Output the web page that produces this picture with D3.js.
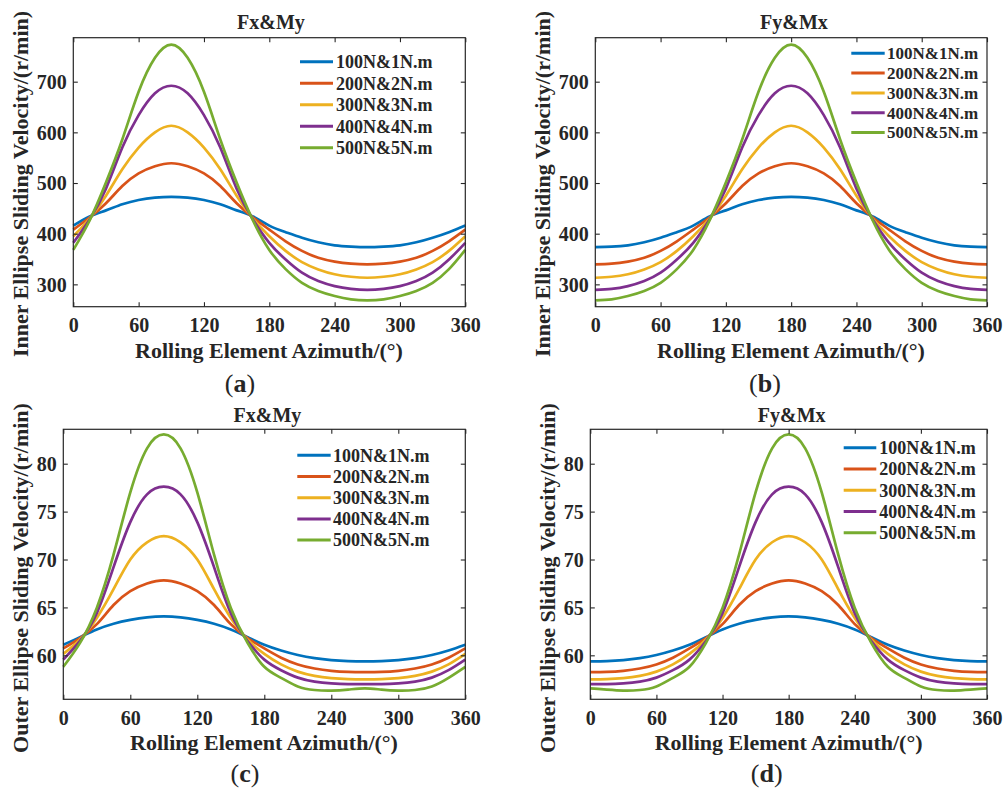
<!DOCTYPE html>
<html>
<head>
<meta charset="utf-8">
<script src="https://cdnjs.cloudflare.com/ajax/libs/d3/7.8.5/d3.min.js"></script>
<style>
  body { margin: 0; background: #fff; }
  svg text { font-family: "Liberation Serif", "Times New Roman", serif; fill: #262626; }
</style>
</head>
<body>
<div id="chart"></div>
<script>
// azimuth grid (deg)
var azimuth = [0, 15, 30, 45, 60, 75, 90, 105, 120, 135, 150, 165, 180,
               195, 210, 225, 240, 255, 270, 285, 300, 315, 330, 345, 360];

var seriesNames = ["100N&1N.m", "200N&2N.m", "300N&3N.m", "400N&4N.m", "500N&5N.m"];
var seriesColors = ["#0072BD", "#D95319", "#EDB120", "#7E2F8E", "#77AC30"];

// (a) inner ellipse, Fx&My
var innerFxMy = [
  [416, 434, 446, 458, 466.5, 471, 472.5, 471, 466.5, 458, 446, 434, 416, 403, 392, 383, 377, 374.5, 373.5, 374.5, 377, 383, 392, 403, 416],
  [408, 432, 460, 494, 519, 533, 539, 533, 519, 494, 460, 432, 408, 385, 366, 352.5, 345, 341, 339.5, 341, 345, 352.5, 366, 385, 408],
  [395, 430, 475, 527, 570, 600, 613, 600, 570, 527, 475, 430, 395, 366, 344, 329.5, 320, 315, 313, 315, 320, 329.5, 344, 366, 395],
  [382, 428, 489, 570, 634, 677, 692, 677, 634, 570, 489, 428, 382, 349, 323, 306.5, 296.5, 291, 289, 291, 296.5, 306.5, 323, 349, 382],
  [368, 426, 501, 586, 680, 747, 773, 747, 680, 586, 501, 426, 368, 330, 303, 287, 277, 270.5, 268.5, 270.5, 277, 287, 303, 330, 368]
];

// (b) inner ellipse, Fy&Mx
var innerFyMx = [
  [373.5, 374.5, 377, 383, 392, 403, 416, 434, 446, 458, 466.5, 471, 472.5, 471, 466.5, 458, 446, 434, 416, 403, 392, 383, 377, 374.5, 373.5],
  [339.5, 341, 345, 352.5, 366, 385, 408, 432, 460, 494, 519, 533, 539, 533, 519, 494, 460, 432, 408, 385, 366, 352.5, 345, 341, 339.5],
  [313, 315, 320, 329.5, 344, 366, 395, 430, 475, 527, 570, 600, 613, 600, 570, 527, 475, 430, 395, 366, 344, 329.5, 320, 315, 313],
  [289, 291, 296.5, 306.5, 323, 349, 382, 428, 489, 570, 634, 677, 692, 677, 634, 570, 489, 428, 382, 349, 323, 306.5, 296.5, 291, 289],
  [268.5, 270.5, 277, 287, 303, 330, 368, 426, 501, 586, 680, 747, 773, 747, 680, 586, 501, 426, 368, 330, 303, 287, 277, 270.5, 268.5]
];

// (c) outer ellipse, Fx&My
var outerFxMy = [
  [61.1, 61.9, 62.7, 63.3, 63.7, 63.97, 64.07, 63.97, 63.7, 63.3, 62.7, 61.9, 61.1, 60.5, 60.03, 59.7, 59.5, 59.4, 59.37, 59.4, 59.5, 59.7, 60.03, 60.5, 61.1],
  [60.72, 61.8, 63.25, 65.25, 66.7, 67.5, 67.83, 67.5, 66.7, 65.25, 63.25, 61.8, 60.72, 59.75, 59.05, 58.62, 58.38, 58.27, 58.25, 58.27, 58.38, 58.62, 59.05, 59.75, 60.72],
  [60.15, 61.65, 63.9, 66.9, 70.0, 71.8, 72.45, 71.8, 70.0, 66.9, 63.9, 61.65, 60.15, 59.05, 58.3, 57.85, 57.62, 57.52, 57.5, 57.52, 57.62, 57.85, 58.3, 59.05, 60.15],
  [59.55, 61.5, 64.4, 69.2, 73.9, 76.8, 77.6, 76.8, 73.9, 69.2, 64.4, 61.5, 59.55, 58.45, 57.67, 57.25, 57.07, 57.0, 57.0, 57.0, 57.07, 57.25, 57.67, 58.45, 59.55],
  [58.8, 61.3, 64.95, 70.5, 77.0, 81.6, 83.05, 81.6, 77.0, 70.5, 64.95, 61.3, 58.8, 57.65, 56.75, 56.38, 56.32, 56.42, 56.55, 56.42, 56.32, 56.38, 56.75, 57.65, 58.8]
];

// (d) outer ellipse, Fy&Mx
var outerFyMx = [
  [59.37, 59.4, 59.5, 59.7, 60.03, 60.5, 61.1, 61.9, 62.7, 63.3, 63.7, 63.97, 64.07, 63.97, 63.7, 63.3, 62.7, 61.9, 61.1, 60.5, 60.03, 59.7, 59.5, 59.4, 59.37],
  [58.25, 58.27, 58.38, 58.62, 59.05, 59.75, 60.72, 61.8, 63.25, 65.25, 66.7, 67.5, 67.83, 67.5, 66.7, 65.25, 63.25, 61.8, 60.72, 59.75, 59.05, 58.62, 58.38, 58.27, 58.25],
  [57.5, 57.52, 57.62, 57.85, 58.3, 59.05, 60.15, 61.65, 63.9, 66.9, 70.0, 71.8, 72.45, 71.8, 70.0, 66.9, 63.9, 61.65, 60.15, 59.05, 58.3, 57.85, 57.62, 57.52, 57.5],
  [57.0, 57.0, 57.07, 57.25, 57.67, 58.45, 59.55, 61.5, 64.4, 69.2, 73.9, 76.8, 77.6, 76.8, 73.9, 69.2, 64.4, 61.5, 59.55, 58.45, 57.67, 57.25, 57.07, 57.0, 57.0],
  [56.55, 56.42, 56.32, 56.38, 56.75, 57.65, 58.8, 61.3, 64.95, 70.5, 77.0, 81.6, 83.05, 81.6, 77.0, 70.5, 64.95, 61.3, 58.8, 57.65, 56.75, 56.38, 56.32, 56.42, 56.55]
];

var xTicks = [0, 60, 120, 180, 240, 300, 360];
var innerTicks = [300, 400, 500, 600, 700];
var outerTicks = [60, 65, 70, 75, 80];
var innerDomain = [255.9, 786.8];
var outerDomain = [55.41, 83.59];

var innerLabel = "Inner Ellipse Sliding Velocity/(r/min)";
var outerLabel = "Outer Ellipse Sliding Velocity/(r/min)";
var xLabel = "Rolling Element Azimuth/(\u00b0)";

// layout of the four panels
var panels = [
  { data: innerFxMy, title: "Fx&My", tag: "a", ylabel: innerLabel, yTicks: innerTicks, yDomain: innerDomain,
    box: { l: 73.3, r: 465.3, t: 37.7, b: 306.7 }, titleX: 271, titleY: 29, xLabX: 269, xLabY: 358,
    yLabX: 28, yLabY: 184, tagX: 240, tagY: 392,
    leg: { x0: 300, x1: 333, tx: 336, y0: 61.7, dy: 21.5, fs: 18 } },
  { data: innerFyMx, title: "Fy&Mx", tag: "b", ylabel: innerLabel, yTicks: innerTicks, yDomain: innerDomain,
    box: { l: 595.3, r: 987, t: 37.7, b: 306.7 }, titleX: 794, titleY: 29, xLabX: 791, xLabY: 358,
    yLabX: 550, yLabY: 184, tagX: 765, tagY: 392,
    leg: { x0: 851.3, x1: 884.7, tx: 887, y0: 53.3, dy: 19.8, fs: 17 } },
  { data: outerFxMy, title: "Fx&My", tag: "c", ylabel: outerLabel, yTicks: outerTicks, yDomain: outerDomain,
    box: { l: 63.3, r: 465.3, t: 429.3, b: 699.3 }, titleX: 267.5, titleY: 421.7, xLabX: 264, xLabY: 750,
    yLabX: 28, yLabY: 578, tagX: 245, tagY: 782,
    leg: { x0: 297.3, x1: 330.7, tx: 333, y0: 455.3, dy: 21.2, fs: 18 } },
  { data: outerFyMx, title: "Fy&Mx", tag: "d", ylabel: outerLabel, yTicks: outerTicks, yDomain: outerDomain,
    box: { l: 590.3, r: 987, t: 429.3, b: 699.3 }, titleX: 791.7, titleY: 421.7, xLabX: 788.6, xLabY: 750,
    yLabX: 555, yLabY: 578, tagX: 766.7, tagY: 782,
    leg: { x0: 843.7, x1: 876.3, tx: 879.3, y0: 447.7, dy: 21.25, fs: 18 } }
];

var svg = d3.select("#chart").append("svg")
  .attr("width", 1003)
  .attr("height", 791);

var ink = "#262626";

panels.forEach(function(p) {
  var x = d3.scaleLinear().domain([0, 360]).range([p.box.l, p.box.r]);
  var y = d3.scaleLinear().domain(p.yDomain).range([p.box.b, p.box.t]);
  var g = svg.append("g");

  // curves
  var line = d3.line()
    .x(function(d) { return x(d[0]); })
    .y(function(d) { return y(d[1]); })
    .curve(d3.curveNatural);

  p.data.forEach(function(vals, i) {
    g.append("path")
      .datum(azimuth.map(function(a, k) { return [a, vals[k]]; }))
      .attr("d", line)
      .attr("fill", "none")
      .attr("stroke", seriesColors[i])
      .attr("stroke-width", 2.7)
      .attr("stroke-linejoin", "round");
  });

  // axes (inward ticks on all four sides)
  var bottom = g.append("g").attr("transform", "translate(0," + p.box.b + ")")
    .call(d3.axisBottom(x).tickValues(xTicks).tickSize(-4.5).tickPadding(10));
  var top = g.append("g").attr("transform", "translate(0," + p.box.t + ")")
    .call(d3.axisTop(x).tickValues(xTicks).tickSize(-4.5).tickFormat(""));
  var left = g.append("g").attr("transform", "translate(" + p.box.l + ",0)")
    .call(d3.axisLeft(y).tickValues(p.yTicks).tickSize(-4.5).tickPadding(6.5));
  var right = g.append("g").attr("transform", "translate(" + p.box.r + ",0)")
    .call(d3.axisRight(y).tickValues(p.yTicks).tickSize(-4.5).tickFormat(""));

  [bottom, top, left, right].forEach(function(ax) {
    ax.select(".domain").remove();
    ax.selectAll("line").attr("stroke", ink).attr("stroke-width", 1.1);
    ax.selectAll("text")
      .attr("fill", ink)
      .style("font-family", "'Liberation Serif', serif")
      .style("font-weight", "bold")
      .style("font-size", "20px");
  });
  bottom.selectAll("text").attr("dy", null).attr("y", 25.3);
  left.selectAll("text").attr("dy", "0.34em");

  g.append("rect")
    .attr("x", p.box.l).attr("y", p.box.t)
    .attr("width", p.box.r - p.box.l).attr("height", p.box.b - p.box.t)
    .attr("fill", "none").attr("stroke", ink).attr("stroke-width", 1.2);

  // title
  g.append("text").attr("x", p.titleX).attr("y", p.titleY)
    .attr("text-anchor", "middle").style("font-weight", "bold").style("font-size", "20px")
    .text(p.title);

  // axis labels
  g.append("text").attr("x", p.xLabX).attr("y", p.xLabY)
    .attr("text-anchor", "middle").style("font-weight", "bold").style("font-size", "22px")
    .text(xLabel);
  g.append("text")
    .attr("transform", "translate(" + p.yLabX + "," + p.yLabY + ") rotate(-90)")
    .attr("text-anchor", "middle").style("font-weight", "bold").style("font-size", "22px")
    .text(p.ylabel);

  // legend
  seriesNames.forEach(function(name, i) {
    var yy = p.leg.y0 + i * p.leg.dy;
    g.append("line")
      .attr("x1", p.leg.x0).attr("x2", p.leg.x1)
      .attr("y1", yy).attr("y2", yy)
      .attr("stroke", seriesColors[i]).attr("stroke-width", 3);
    g.append("text").attr("x", p.leg.tx).attr("y", yy).attr("dy", "0.35em")
      .style("font-weight", "bold").style("font-size", p.leg.fs + "px")
      .text(name);
  });

  // sub caption (a)...(d)
  var cap = svg.append("text").attr("x", p.tagX).attr("y", p.tagY)
    .attr("text-anchor", "middle").style("font-size", "26px");
  cap.append("tspan").text("(");
  cap.append("tspan").style("font-weight", "bold").text(p.tag);
  cap.append("tspan").text(")");
});
</script>
</body>
</html>
